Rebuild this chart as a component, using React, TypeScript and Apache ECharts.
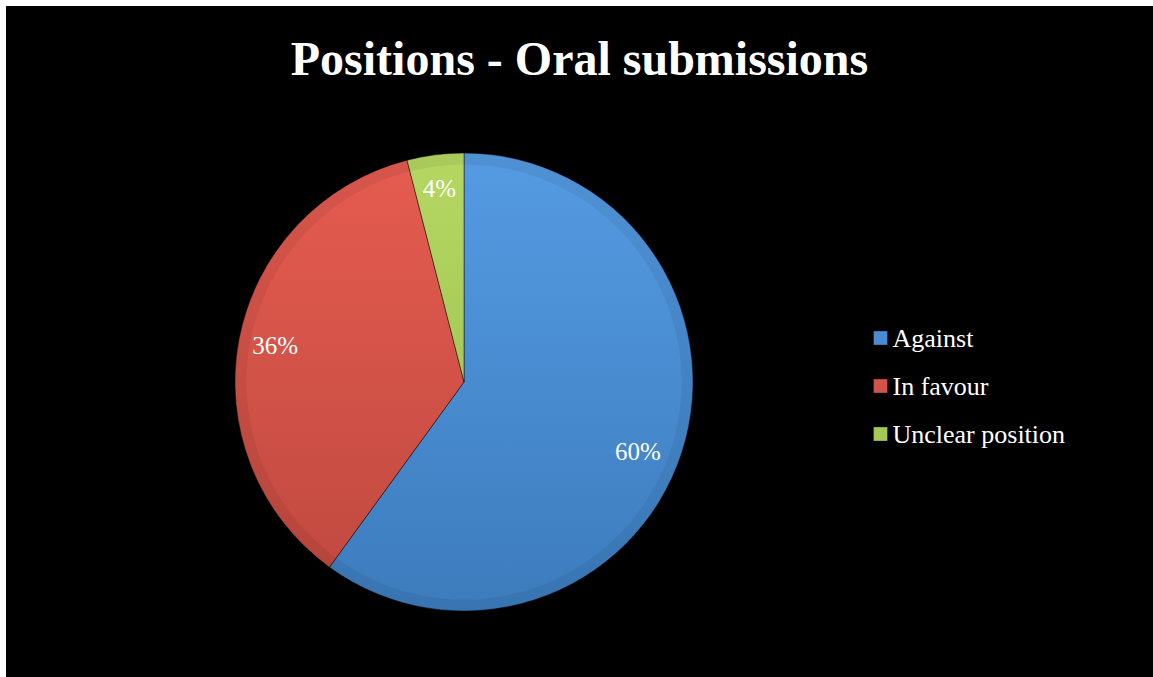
import React, { useEffect, useRef } from "react";
import * as echarts from "echarts";

const categories = ["Against", "In favour", "Unclear position"];
const values = [60, 36, 4];
const labels = ["60%", "36%", "4%"];
const topColors = ["#559BE2", "#E65C50", "#B5D762"];
const bottomColors = ["#3C7CBD", "#BE483F", "#98BB4C"];
const legendColors = ["#4A8CD3", "#D2534A", "#A6C857"];

const FONT = "'Liberation Serif', 'Times New Roman', serif";

export default function App() {
  const ref = useRef<HTMLDivElement>(null);
  useEffect(() => {
    if (!ref.current) return;
    const chart = echarts.init(ref.current, undefined, { renderer: "svg" });
    const cx = 458;
    const cy = 376;
    const r = 229;
    const grad = (i: number) =>
      new echarts.graphic.LinearGradient(
        0,
        cy - r,
        0,
        cy + r,
        [
          { offset: 0, color: topColors[i] },
          { offset: 1, color: bottomColors[i] },
        ],
        true
      );
    const labelOffsets = [[-12, 9], [3, 0], [0, 0]];
    chart.setOption({
      animation: false,
      backgroundColor: "#000000",
      title: {
        text: "Positions - Oral submissions",
        left: "center",
        top: 28,
        padding: 0,
        textStyle: {
          color: "#ffffff",
          fontFamily: FONT,
          fontWeight: "bold",
          fontSize: 48,
          lineHeight: 48,
        },
      },
      legend: {
        orient: "vertical",
        left: 862,
        top: 314,
        itemWidth: 14,
        itemHeight: 14,
        itemGap: 22,
        icon: "rect",
        selectedMode: false,
        data: categories.map((c, i) => ({
          name: c,
          itemStyle: { color: legendColors[i], borderColor: "rgba(0,0,0,0.3)", borderWidth: 1 },
        })),
        textStyle: {
          color: "#ffffff",
          fontFamily: FONT,
          fontSize: 26,
          lineHeight: 26,
        },
      },
      series: [
        {
          type: "pie",
          center: [cx, cy],
          radius: [0, r],
          startAngle: 90,
          clockwise: true,
          silent: true,
          label: { show: false },
          labelLine: { show: false },
          itemStyle: { borderColor: "rgba(0,0,0,0.45)", borderWidth: 1 },
          data: categories.map((c, i) => ({
            name: c,
            value: values[i],
            itemStyle: { color: grad(i) },
          })),
        },
        {
          type: "pie",
          center: [cx, cy],
          radius: [r * 0.95, r],
          startAngle: 90,
          clockwise: true,
          silent: true,
          legendHoverLink: false,
          label: { show: false },
          labelLine: { show: false },
          itemStyle: { color: "rgba(0,0,0,0.06)", borderWidth: 0 },
          data: categories.map((c, i) => ({ name: c + " ", value: values[i] })),
        },
        {
          type: "pie",
          center: [cx, cy],
          radius: [r * 0.68, r],
          startAngle: 90,
          clockwise: true,
          silent: true,
          legendHoverLink: false,
          itemStyle: { color: "rgba(0,0,0,0)", borderWidth: 0 },
          labelLine: { show: false },
          label: {
            show: true,
            position: "inside",
            color: "#ffffff",
            fontFamily: FONT,
            fontSize: 25,
            formatter: (p: any) => labels[p.dataIndex],
          },
          data: categories.map((c, i) => ({
            name: c + "  ",
            value: values[i],
            label: { offset: labelOffsets[i] },
          })),
        },
      ],
    });
    return () => chart.dispose();
  }, []);
  return (
    <div
      ref={ref}
      style={{ position: "absolute", left: 6, top: 6, width: 1147, height: 671, background: "#000" }}
    />
  );
}
